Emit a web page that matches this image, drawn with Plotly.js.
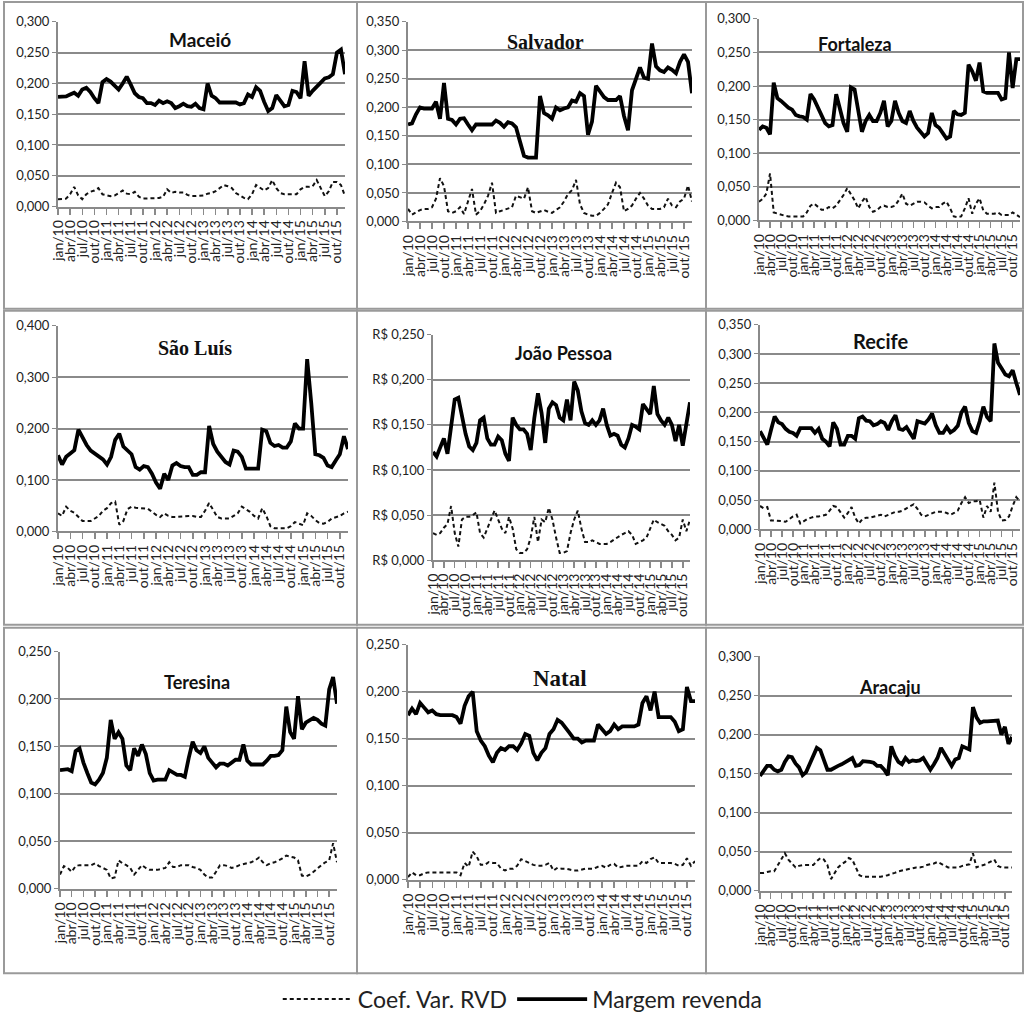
<!DOCTYPE html>
<html><head><meta charset="utf-8">
<script src="https://cdn.plot.ly/plotly-3.0.1.min.js"></script>
<style>body{margin:0;background:#fff} #chart{width:1025px;height:1021px}</style>
</head><body><div id="chart"></div>
<script>
// ---------- DATA ----------
const tickLabels = ["jan/10","abr/10","jul/10","out/10","jan/11","abr/11","jul/11","out/11",
  "jan/12","abr/12","jul/12","out/12","jan/13","abr/13","jul/13","out/13",
  "jan/14","abr/14","jul/14","out/14","jan/15","abr/15","jul/15","out/15"];
const seriesNames = ["Coef. Var. RVD", "Margem revenda"];
const cityNames = ["Maceió","Salvador","Fortaleza","São Luís","João Pessoa","Recife","Teresina","Natal","Aracaju"];

const maceioMargem = [0.178,0.178,0.179,0.182,0.185,0.180,0.190,0.193,0.186,0.176,0.168,0.202,0.207,0.203,0.197,0.190,0.200,0.211,0.198,0.184,0.178,0.176,0.168,0.168,0.165,0.172,0.168,0.171,0.168,0.160,0.163,0.167,0.163,0.162,0.167,0.160,0.158,0.200,0.180,0.176,0.169,0.169,0.169,0.169,0.169,0.166,0.168,0.182,0.178,0.194,0.188,0.170,0.155,0.160,0.181,0.172,0.163,0.165,0.188,0.186,0.176,0.236,0.180,0.188,0.195,0.200,0.208,0.210,0.215,0.250,0.255,0.215];
const maceioCoef = [0.012,0.012,0.013,0.020,0.032,0.018,0.012,0.020,0.024,0.026,0.030,0.020,0.018,0.017,0.018,0.022,0.026,0.021,0.020,0.024,0.016,0.013,0.013,0.013,0.013,0.014,0.016,0.028,0.022,0.024,0.023,0.023,0.019,0.017,0.017,0.018,0.018,0.021,0.022,0.025,0.030,0.035,0.033,0.030,0.022,0.018,0.014,0.012,0.020,0.035,0.030,0.026,0.030,0.043,0.030,0.022,0.020,0.020,0.020,0.020,0.028,0.032,0.032,0.033,0.043,0.030,0.017,0.025,0.040,0.040,0.035,0.017];

const salvadorMargem = [0.170,0.172,0.188,0.200,0.198,0.198,0.198,0.210,0.180,0.243,0.180,0.178,0.170,0.180,0.181,0.170,0.160,0.170,0.170,0.170,0.170,0.170,0.177,0.173,0.166,0.174,0.172,0.165,0.140,0.115,0.112,0.112,0.112,0.220,0.190,0.186,0.180,0.200,0.195,0.198,0.200,0.212,0.210,0.225,0.220,0.152,0.175,0.238,0.228,0.218,0.213,0.213,0.213,0.220,0.185,0.160,0.230,0.250,0.270,0.252,0.250,0.312,0.272,0.265,0.262,0.270,0.266,0.260,0.280,0.293,0.280,0.225];
const salvadorCoef = [0.022,0.012,0.016,0.020,0.022,0.022,0.025,0.040,0.076,0.062,0.018,0.015,0.018,0.025,0.013,0.035,0.057,0.012,0.018,0.030,0.045,0.068,0.015,0.018,0.020,0.022,0.025,0.045,0.042,0.040,0.060,0.018,0.015,0.018,0.020,0.017,0.015,0.020,0.025,0.035,0.048,0.055,0.073,0.030,0.015,0.012,0.010,0.010,0.015,0.022,0.030,0.050,0.068,0.060,0.018,0.022,0.028,0.040,0.050,0.040,0.028,0.022,0.022,0.022,0.025,0.040,0.028,0.025,0.035,0.040,0.063,0.035];

const fortalezaMargem = [0.135,0.140,0.138,0.128,0.205,0.182,0.178,0.172,0.168,0.165,0.157,0.155,0.154,0.150,0.188,0.180,0.168,0.155,0.145,0.140,0.142,0.188,0.165,0.145,0.132,0.198,0.195,0.162,0.132,0.148,0.157,0.148,0.148,0.160,0.178,0.140,0.148,0.178,0.160,0.148,0.145,0.163,0.148,0.138,0.132,0.125,0.130,0.160,0.142,0.138,0.130,0.122,0.125,0.163,0.158,0.157,0.160,0.232,0.222,0.208,0.235,0.192,0.190,0.190,0.190,0.190,0.180,0.182,0.250,0.197,0.240,0.240];
const fortalezaCoef = [0.028,0.032,0.040,0.070,0.012,0.010,0.008,0.007,0.006,0.006,0.006,0.006,0.006,0.012,0.022,0.025,0.020,0.016,0.016,0.020,0.018,0.022,0.030,0.038,0.048,0.040,0.030,0.018,0.028,0.035,0.020,0.013,0.015,0.020,0.022,0.020,0.020,0.022,0.030,0.040,0.025,0.022,0.025,0.028,0.028,0.027,0.022,0.018,0.020,0.020,0.025,0.028,0.018,0.006,0.005,0.006,0.018,0.033,0.010,0.025,0.033,0.015,0.010,0.010,0.010,0.012,0.008,0.008,0.008,0.012,0.008,0.005];

const saoLuisMargem = [0.148,0.130,0.145,0.152,0.158,0.198,0.182,0.168,0.157,0.152,0.147,0.140,0.130,0.145,0.178,0.190,0.165,0.158,0.150,0.125,0.120,0.127,0.125,0.112,0.095,0.083,0.112,0.100,0.128,0.133,0.127,0.125,0.125,0.110,0.110,0.115,0.115,0.205,0.170,0.155,0.145,0.135,0.130,0.157,0.155,0.145,0.122,0.122,0.122,0.122,0.198,0.195,0.172,0.166,0.168,0.163,0.163,0.175,0.210,0.200,0.200,0.335,0.250,0.150,0.148,0.143,0.128,0.125,0.138,0.150,0.185,0.160];
const saoLuisCoef = [0.035,0.030,0.048,0.040,0.036,0.028,0.020,0.020,0.020,0.025,0.030,0.040,0.045,0.055,0.058,0.013,0.020,0.043,0.048,0.046,0.045,0.045,0.044,0.038,0.032,0.028,0.035,0.030,0.028,0.028,0.029,0.030,0.030,0.030,0.028,0.028,0.040,0.055,0.040,0.028,0.025,0.025,0.025,0.030,0.035,0.048,0.043,0.038,0.030,0.025,0.045,0.030,0.010,0.006,0.006,0.006,0.006,0.010,0.018,0.015,0.012,0.035,0.030,0.022,0.016,0.015,0.018,0.025,0.028,0.030,0.035,0.038];

const joaoPessoaMargem = [0.120,0.115,0.125,0.135,0.118,0.148,0.178,0.180,0.158,0.140,0.126,0.122,0.130,0.155,0.158,0.135,0.128,0.128,0.137,0.133,0.118,0.110,0.158,0.150,0.145,0.145,0.140,0.122,0.158,0.185,0.163,0.130,0.168,0.175,0.172,0.158,0.155,0.178,0.155,0.198,0.188,0.165,0.152,0.150,0.155,0.150,0.155,0.168,0.150,0.138,0.140,0.138,0.128,0.125,0.135,0.150,0.148,0.145,0.173,0.168,0.162,0.193,0.162,0.155,0.150,0.158,0.150,0.132,0.150,0.127,0.150,0.175];
const joaoPessoaCoef = [0.030,0.028,0.030,0.036,0.040,0.060,0.030,0.015,0.045,0.048,0.048,0.050,0.053,0.030,0.025,0.035,0.045,0.055,0.045,0.035,0.030,0.048,0.035,0.012,0.008,0.008,0.012,0.025,0.048,0.020,0.045,0.042,0.058,0.045,0.025,0.008,0.008,0.010,0.030,0.045,0.055,0.035,0.020,0.020,0.022,0.020,0.018,0.018,0.018,0.020,0.023,0.025,0.028,0.030,0.032,0.028,0.018,0.020,0.022,0.025,0.035,0.045,0.042,0.040,0.038,0.032,0.028,0.022,0.025,0.045,0.032,0.045];

const recifeMargem = [0.168,0.158,0.145,0.170,0.193,0.183,0.180,0.172,0.167,0.165,0.160,0.173,0.173,0.173,0.173,0.165,0.172,0.155,0.150,0.142,0.183,0.172,0.145,0.145,0.160,0.160,0.155,0.190,0.193,0.186,0.185,0.178,0.180,0.185,0.182,0.170,0.185,0.195,0.172,0.170,0.175,0.165,0.155,0.185,0.183,0.181,0.188,0.198,0.178,0.165,0.165,0.175,0.166,0.170,0.177,0.200,0.210,0.182,0.168,0.165,0.185,0.210,0.192,0.185,0.318,0.285,0.275,0.265,0.262,0.272,0.250,0.230];
const recifeCoef = [0.040,0.036,0.038,0.015,0.015,0.015,0.014,0.013,0.018,0.022,0.025,0.010,0.014,0.018,0.020,0.022,0.022,0.023,0.025,0.032,0.040,0.038,0.030,0.020,0.028,0.038,0.020,0.010,0.018,0.020,0.020,0.022,0.024,0.025,0.022,0.025,0.028,0.030,0.030,0.032,0.036,0.040,0.043,0.035,0.025,0.022,0.025,0.028,0.030,0.030,0.030,0.028,0.025,0.028,0.032,0.045,0.055,0.045,0.048,0.048,0.050,0.020,0.040,0.030,0.080,0.030,0.015,0.016,0.022,0.040,0.055,0.048];

const teresinaMargem = [0.125,0.126,0.126,0.124,0.145,0.148,0.133,0.122,0.112,0.110,0.115,0.122,0.138,0.178,0.158,0.165,0.158,0.130,0.125,0.148,0.140,0.152,0.142,0.122,0.114,0.115,0.115,0.115,0.125,0.123,0.120,0.120,0.118,0.138,0.155,0.146,0.143,0.150,0.138,0.133,0.128,0.132,0.132,0.130,0.133,0.136,0.136,0.152,0.135,0.131,0.131,0.131,0.131,0.135,0.140,0.140,0.141,0.146,0.192,0.165,0.158,0.203,0.168,0.175,0.178,0.180,0.178,0.174,0.172,0.210,0.223,0.195];
const teresinaCoef = [0.015,0.024,0.022,0.018,0.024,0.025,0.025,0.025,0.025,0.027,0.024,0.022,0.020,0.011,0.012,0.030,0.027,0.025,0.022,0.015,0.020,0.025,0.022,0.020,0.020,0.020,0.021,0.022,0.028,0.023,0.023,0.025,0.025,0.025,0.023,0.022,0.020,0.015,0.012,0.012,0.018,0.025,0.025,0.024,0.022,0.023,0.025,0.026,0.027,0.028,0.030,0.033,0.028,0.025,0.027,0.028,0.030,0.032,0.035,0.034,0.033,0.030,0.014,0.013,0.015,0.018,0.022,0.025,0.028,0.030,0.048,0.028];

const natalMargem = [0.175,0.182,0.176,0.188,0.183,0.178,0.180,0.176,0.175,0.175,0.175,0.175,0.173,0.166,0.185,0.195,0.200,0.158,0.148,0.142,0.132,0.125,0.135,0.140,0.138,0.142,0.142,0.138,0.145,0.155,0.153,0.135,0.127,0.135,0.140,0.155,0.160,0.170,0.167,0.162,0.156,0.150,0.150,0.146,0.148,0.148,0.148,0.165,0.160,0.155,0.158,0.165,0.160,0.163,0.163,0.163,0.163,0.165,0.188,0.195,0.180,0.200,0.173,0.173,0.173,0.173,0.168,0.158,0.160,0.205,0.190,0.190];
const natalCoef = [0.003,0.008,0.005,0.005,0.007,0.008,0.008,0.008,0.008,0.008,0.008,0.008,0.008,0.005,0.018,0.014,0.030,0.025,0.016,0.016,0.019,0.018,0.018,0.012,0.010,0.012,0.012,0.015,0.022,0.020,0.018,0.016,0.015,0.015,0.016,0.018,0.010,0.013,0.012,0.012,0.011,0.010,0.010,0.011,0.012,0.012,0.012,0.014,0.015,0.013,0.016,0.017,0.013,0.014,0.015,0.015,0.015,0.015,0.020,0.018,0.022,0.024,0.018,0.018,0.018,0.018,0.017,0.015,0.016,0.023,0.015,0.020];

const aracajuMargem = [0.147,0.153,0.160,0.160,0.155,0.153,0.155,0.165,0.172,0.171,0.163,0.158,0.148,0.152,0.162,0.172,0.183,0.180,0.168,0.155,0.155,0.158,0.160,0.162,0.165,0.168,0.170,0.160,0.161,0.166,0.166,0.165,0.164,0.160,0.160,0.155,0.148,0.185,0.173,0.165,0.162,0.170,0.165,0.167,0.166,0.167,0.170,0.162,0.155,0.162,0.170,0.183,0.175,0.168,0.160,0.168,0.170,0.185,0.183,0.181,0.235,0.222,0.215,0.217,0.217,0.217,0.217,0.218,0.200,0.210,0.188,0.197];
const aracajuCoef = [0.023,0.023,0.024,0.025,0.025,0.033,0.040,0.048,0.040,0.035,0.030,0.032,0.033,0.033,0.033,0.033,0.038,0.042,0.040,0.033,0.015,0.022,0.030,0.034,0.037,0.042,0.040,0.030,0.020,0.018,0.018,0.018,0.018,0.018,0.018,0.019,0.020,0.022,0.023,0.025,0.026,0.027,0.028,0.029,0.030,0.030,0.031,0.033,0.034,0.035,0.037,0.035,0.032,0.030,0.030,0.030,0.030,0.032,0.033,0.034,0.048,0.030,0.032,0.033,0.035,0.037,0.040,0.032,0.030,0.030,0.030,0.030];

// ---------- LAYOUT CONFIG ----------
const W = 1025, H = 1021;
const SANS = 'Lato, "Liberation Sans", sans-serif';
const SERIF = '"Liberation Serif", "DejaVu Serif", serif';
const panels = [
  {margem: maceioMargem, coef: maceioCoef, ymax: 0.30, dt: 0.05, px: [58,345,22,208], t: [200,40], tf: SANS, ts: 19, pre: ''},
  {margem: salvadorMargem, coef: salvadorCoef, ymax: 0.35, dt: 0.05, px: [408,692,22,223], t: [545,42], tf: SERIF, ts: 20, pre: ''},
  {margem: fortalezaMargem, coef: fortalezaCoef, ymax: 0.30, dt: 0.05, px: [759,1020,19,222], t: [855,44], tf: SANS, ts: 18, pre: ''},
  {margem: saoLuisMargem, coef: saoLuisCoef, ymax: 0.40, dt: 0.10, px: [58,348,328,535], t: [195,350], tf: SERIF, ts: 20, pre: ''},
  {margem: joaoPessoaMargem, coef: joaoPessoaCoef, ymax: 0.25, dt: 0.05, px: [433,690,337,564], t: [563,355], tf: SANS, ts: 18, pre: 'R$ '},
  {margem: recifeMargem, coef: recifeCoef, ymax: 0.35, dt: 0.05, px: [760,1020,327,533], t: [880,343], tf: SANS, ts: 20, pre: ''},
  {margem: teresinaMargem, coef: teresinaCoef, ymax: 0.25, dt: 0.05, px: [60,337,656,895], t: [197,687], tf: SANS, ts: 18, pre: ''},
  {margem: natalMargem, coef: natalCoef, ymax: 0.25, dt: 0.05, px: [408,695,649,886], t: [560,683], tf: SERIF, ts: 23, pre: ''},
  {margem: aracajuMargem, coef: aracajuCoef, ymax: 0.30, dt: 0.05, px: [760,1012,661,897], t: [890,692], tf: SANS, ts: 18, pre: ''}
];
const boxes = [
  [4,2,357,311],[357,2,706,311],[706,2,1023,311],
  [4,313,357,629],[357,313,706,629],[706,313,1023,629],
  [4,632,357,980],[357,632,706,980],[706,632,1023,980]
];

const xIdx = maceioMargem.map((_, i) => i);
const tickVals = tickLabels.map((_, i) => i * 3);
const fmt = v => v.toFixed(3).replace('.', ',');

const traces = [];
const layout = {
  width: W, height: H, margin: {l:0, r:0, t:0, b:0},
  paper_bgcolor: '#fff', plot_bgcolor: '#fff',
  font: {family: SANS, color: '#222'},
  showlegend: true,
  legend: {orientation: 'h', x: 0.51, xanchor: 'center', y: 1 - 1006/H, yanchor: 'middle',
           font: {family: SANS, size: 23, color: '#222'}, itemwidth: 70, traceorder: 'normal'},
  annotations: [], shapes: []
};

panels.forEach((p, k) => {
  const n = k + 1, sx = n === 1 ? '' : String(n);
  const [x0, x1, y0, y1] = p.px;
  const yv = []; for (let v = 0; v <= p.ymax + 1e-9; v += p.dt) yv.push(+v.toFixed(3));
  layout['xaxis' + sx] = {
    domain: [x0 / W, x1 / W], anchor: 'y' + sx, range: [0, 71],
    tickmode: 'array', tickvals: tickVals, ticktext: tickLabels, tickangle: -90,
    ticks: 'outside', ticklen: 6, tickwidth: 1.5, tickcolor: '#8a8a8a',
    showline: true, linecolor: '#8a8a8a', linewidth: 2, showgrid: false, zeroline: false,
    tickfont: {family: SANS, size: 14, color: '#222'}
  };
  layout['yaxis' + sx] = {
    domain: [1 - y1 / H, 1 - y0 / H], anchor: 'x' + sx, range: [0, p.ymax],
    tickmode: 'array', tickvals: yv, ticktext: yv.map(v => p.pre + fmt(v)),
    showgrid: true, gridcolor: '#8a8a8a', gridwidth: 2,
    showline: true, linecolor: '#8a8a8a', linewidth: 2, zeroline: false,
    ticks: 'outside', ticklen: 4, tickcolor: '#8a8a8a',
    tickfont: {family: SANS, size: 13, color: '#222'}
  };
  traces.push({x: xIdx, y: p.coef, xaxis: 'x' + sx, yaxis: 'y' + sx, type: 'scatter', mode: 'lines',
    name: seriesNames[0], legendgroup: 'c', showlegend: k === 0,
    line: {color: '#111', width: 2, dash: '4px,3px'}});
  traces.push({x: xIdx, y: p.margem, xaxis: 'x' + sx, yaxis: 'y' + sx, type: 'scatter', mode: 'lines',
    name: seriesNames[1], legendgroup: 'm', showlegend: k === 0,
    line: {color: '#000', width: 3.8}});
  layout.annotations.push({text: '<b>' + cityNames[k] + '</b>', xref: 'paper', yref: 'paper',
    x: p.t[0] / W, y: 1 - p.t[1] / H, xanchor: 'center', yanchor: 'middle', showarrow: false,
    font: {family: p.tf, size: p.ts, color: '#111'}});
  const b = boxes[k];
  layout.shapes.push({type: 'rect', xref: 'paper', yref: 'paper', x0: b[0] / W, x1: b[2] / W,
    y0: 1 - b[3] / H, y1: 1 - b[1] / H, line: {color: '#9a9a9a', width: 2}, layer: 'below'});
});

Plotly.newPlot('chart', traces, layout, {staticPlot: true});
</script></body></html>
